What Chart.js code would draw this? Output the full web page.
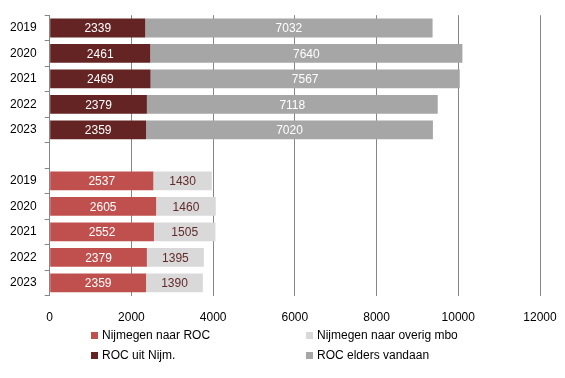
<!DOCTYPE html>
<html>
<head>
<meta charset="utf-8">
<script src="https://cdn.jsdelivr.net/npm/chart.js@4"></script>
<style>
  html, body { margin: 0; padding: 0; background: #fff; }
  #wrap { width: 565px; height: 378px; }
</style>
</head>
<body>
<div id="wrap"><canvas id="chart" width="565" height="378"></canvas></div>
<script>
var years = ['2019', '2020', '2021', '2022', '2023', '', '2019', '2020', '2021', '2022', '2023'];

var nijmNaarRoc   = [null, null, null, null, null, null, 2537, 2605, 2552, 2379, 2359];
var nijmOverigMbo = [null, null, null, null, null, null, 1430, 1460, 1505, 1395, 1390];
var rocUitNijm    = [2339, 2461, 2469, 2379, 2359, null, null, null, null, null, null];
var rocElders     = [7032, 7640, 7567, 7118, 7020, null, null, null, null, null, null];

var xTicks = [0, 2000, 4000, 6000, 8000, 10000, 12000];

var FONT = "'Liberation Sans', Arial, sans-serif";

// labels in the middle of every bar segment
var barLabels = {
  id: 'barLabels',
  afterDatasetsDraw: function(chart) {
    var ctx = chart.ctx;
    ctx.save();
    ctx.font = '12px ' + FONT;
    ctx.textAlign = 'center';
    ctx.textBaseline = 'middle';
    chart.data.datasets.forEach(function(ds, i) {
      var meta = chart.getDatasetMeta(i);
      meta.data.forEach(function(bar, j) {
        var v = ds.data[j];
        if (v == null) return;
        var x = (bar.x + bar.base) / 2;
        ctx.fillStyle = ds.labelColor;
        ctx.fillText(String(v), x, bar.y + 1);
      });
    });
    ctx.restore();
  }
};

// legend in two columns below the axis
var twoColLegend = {
  id: 'twoColLegend',
  afterDraw: function(chart) {
    var ctx = chart.ctx;
    var cols = [91, 306];
    var rows = [335, 355];
    ctx.save();
    ctx.font = '12px ' + FONT;
    ctx.textBaseline = 'middle';
    ctx.textAlign = 'left';
    chart.data.datasets.forEach(function(ds, i) {
      var cx = cols[i % 2], cy = rows[Math.floor(i / 2)];
      ctx.fillStyle = ds.backgroundColor;
      ctx.fillRect(cx, cy - 3, 7, 7);
      ctx.fillStyle = '#000';
      ctx.fillText(ds.label, cx + 11, cy + 1);
    });
    ctx.restore();
  }
};

new Chart(document.getElementById('chart'), {
  type: 'bar',
  data: {
    labels: years,
    datasets: [
      { label: 'Nijmegen naar ROC', data: nijmNaarRoc, backgroundColor: '#C0504D', labelColor: '#ffffff' },
      { label: 'Nijmegen naar overig mbo', data: nijmOverigMbo, backgroundColor: '#D9D9D9', labelColor: '#632a2a' },
      { label: 'ROC uit Nijm.', data: rocUitNijm, backgroundColor: '#632423', labelColor: '#ffffff' },
      { label: 'ROC elders vandaan', data: rocElders, backgroundColor: '#A6A6A6', labelColor: '#ffffff' }
    ]
  },
  options: {
    indexAxis: 'y',
    responsive: false,
    animation: false,
    maintainAspectRatio: false,
    layout: { padding: { left: 2, right: 25, top: 12, bottom: 50 } },
    datasets: { bar: { categoryPercentage: 0.74, barPercentage: 1.0, skipNull: false } },
    plugins: {
      legend: { display: false },
      tooltip: { enabled: false }
    },
    scales: {
      x: {
        stacked: true,
        min: 0,
        max: 12000,
        afterBuildTicks: function(axis) {
          axis.ticks = xTicks.map(function(v) { return { value: v }; });
        },
        grid: { color: '#868686', lineWidth: 1, drawTicks: true, tickLength: 12, tickColor: 'rgba(0,0,0,0)' },
        border: { display: false },
        ticks: {
          color: '#000', font: { family: FONT, size: 12 }, padding: 3, maxRotation: 0,
          callback: function(v) { return String(v); }
        }
      },
      y: {
        stacked: true,
        grid: { drawOnChartArea: false, drawTicks: true, tickLength: 5, color: '#868686', offset: true },
        border: { display: true, color: '#868686' },
        ticks: { color: '#000', font: { family: FONT, size: 12 }, padding: 8, autoSkip: false }
      }
    }
  },
  plugins: [barLabels, twoColLegend]
});
</script>
</body>
</html>
